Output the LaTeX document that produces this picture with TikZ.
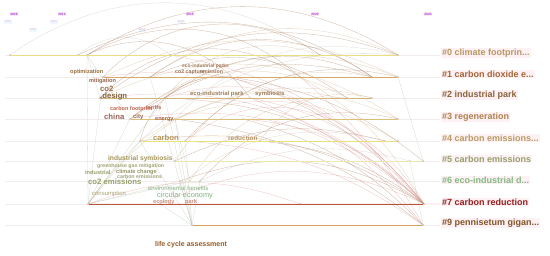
\documentclass[tikz,border=0pt]{standalone}
\usepackage{fontspec}
\setmainfont{Liberation Sans}
\definecolor{arcb}{RGB}{165,115,85}
\definecolor{arcp}{RGB}{225,140,140}
\definecolor{arct}{RGB}{205,170,125}
\definecolor{arcl}{RGB}{200,185,170}
\definecolor{arcg}{RGB}{175,190,165}
\definecolor{guidec}{RGB}{242,236,236}
\definecolor{dotc}{RGB}{130,110,80}
\definecolor{labbg}{RGB}{253,241,243}
\definecolor{yrc}{RGB}{160,60,220}
\definecolor{yrbg}{RGB}{252,232,240}
\tikzset{
  dot/.style={circle,fill=dotc,inner sep=0pt,minimum size=1.5pt},
  kw/.style={anchor=west,inner sep=0pt,font=\fontsize{#1}{#1}\selectfont\bfseries},
  kwr/.style={anchor=west,inner sep=0pt,font=\fontsize{#1}{#1}\selectfont},
  clus/.style={anchor=west,inner sep=1.5pt,fill=labbg,font=\fontsize{12.8}{14}\selectfont\bfseries},
  yr/.style={fill=yrbg,text=yrc,inner sep=1.2pt,font=\fontsize{4.5}{5}\selectfont\bfseries},
  ghost/.style={fill=cyan!7,text=magenta!35,inner sep=1.2pt,font=\fontsize{4}{5}\selectfont},
  guide/.style={guidec,line width=0.5pt},
  link/.style={line width=0.4pt,opacity=0.55},
  tl/.style={line width=0.8pt,draw={rgb,255:#1}},
}
\begin{document}
\begin{tikzpicture}[x=0.05cm,y=-0.05cm]
\useasboundingbox[fill=white] (0,0) rectangle (550,256);
% years
\node[ghost] (g09) at (8,22) {2009};\node[ghost] (g20) at (33,30) {2020};\node[ghost] (g10) at (54,22) {2010};
\node[ghost] (g14) at (142,30) {2014};\node[ghost] (g13) at (181,22) {2013};
\node[yr] (y09) at (14,14) {2009};\node[yr] (y10) at (62,14) {2010};\node[yr] (y15) at (190,14) {2015};
\node[yr] (y20) at (315,14) {2020};\node[yr] (y24) at (428,14) {2024};
\foreach \y in {55,77,98,119,141,161,181,204,225}{\draw[guide] (5,\y)--(440,\y);}
\draw[labbg,line width=4pt] (88,204)--(440,204);
% nodes on the rows
\foreach \n/\x/\y in {r0a/10/55,r0b/78/55,r0c/87/55,r0d/170/55,r0e/320/55,r0f/398/55,
  r1a/103/77,r1b/150/77,r1c/230/77,r1d/300/77,r1e/372/77,r1f/398/77,
  r2a/100/98,r2b/165/98,r2c/250/98,r2d/347/98,r2e/372/98,
  r3a/130/119,r3b/175/119,r3c/243/119,r3d/330/119,r3e/398/119,
  r4a/140/141,r4b/185/141,r4c/260/141,r4d/385/141,r4e/398/141,
  r5a/175/161,r5b/410/161,r5c/423/161,r6a/180/181,r6b/190/181,r6c/200/181,
  r7a/88/204,r7b/160/204,r7c/300/204,r7d/424/204,r9a/192/225,r9b/423/225}
  {\node[dot] (\n) at (\x,\y) {};}
% links
\foreach \a/\b in {r7a/r0c,r7a/r3a,r7a/r1a,r7a/r4a,r7a/r2b,r0c/r2a,r9a/r4b,r9a/r3b,r9a/r2b,r9a/r6a,r9a/r6c,
  r9a/r4a,r9a/r7b,r6b/r3b,r5c/r1f,r9b/r5b,r7a/r6a,r0c/r3a,r9a/r1b,r7a/r6b}
  {\draw[link,arcg] (\a)--(\b);}
\foreach \a/\b/\c/\k in {r0c/r0f/arcb/32,r0a/r0e/arcl/35,r0b/r1e/arcb/30,r1a/r7d/arcp/30,r1a/r1f/arct/25,
  r2a/r7d/arcp/25,r2a/r0f/arcb/28,r2b/r1e/arcb/30,r1b/r0f/arct/30,r2b/r7d/arcb/20,r3a/r7d/arcp/25,
  r3a/r1f/arct/30,r3b/r9b/arcb/15,r3c/r7d/arcp/20,r4a/r7d/arcb/20,r4a/r3e/arct/30,r4b/r9b/arcp/15,
  r4c/r7d/arcb/15,r2c/r7d/arcp/20,r1c/r7d/arcb/15,r1d/r7d/arct/15,r3d/r7d/arcp/15,r6a/r7d/arcb/25,
  r6b/r2d/arct/30,r5a/r4d/arcb/20,r7b/r7d/arcp/25,r7a/r2e/arct/35,r7a/r0f/arcl/30,r2a/r3e/arct/30,
  r0c/r1d/arcb/35,r1a/r0e/arcb/40,r1b/r2d/arcb/30,r3a/r1e/arcb/25,r4b/r3d/arcp/30,r0b/r0d/arcl/40,
  r7a/r7c/arcp/20,r3b/r4e/arct/25,r6c/r5b/arcl/20,r2b/r3d/arcp/25,r4a/r1c/arcb/40,
  r1b/r1e/arcb/35,r2b/r0e/arct/35,r3b/r0f/arcl/30,r4b/r1f/arcb/30,r5a/r1e/arct/35,r2c/r9b/arcp/15,
  r1c/r5c/arcb/15,r3c/r9b/arcb/15,r0d/r7d/arcp/20,r4c/r2e/arct/35,r6c/r3e/arcb/30,r1d/r9b/arcp/10,
  r2a/r1d/arcb/40,r3a/r2d/arct/35,r7b/r4d/arcl/30,r0c/r2c/arcb/40}
  {\draw[link,\c] (\a) to[bend left=\k] (\b);}
% timelines
\draw[tl={red,232;green,222;blue,130}] (r0a)--(r0f);
\draw[tl={red,212;green,170;blue,100}] (r1a)--(r1f);
\draw[tl={red,212;green,180;blue,120}] (r2a)--(r2e);
\draw[tl={red,218;green,192;blue,120}] (r3a)--(r3e);
\draw[tl={red,232;green,226;blue,120}] (r4a)--(r4e);
\draw[tl={red,238;green,232;blue,175}] (r5a)--(r5c);
\draw[tl={red,226;green,236;blue,214}] (r6a)--(r6c);
\draw[tl={red,185;green,85;blue,55},line width=0.9pt] (r7a)--(r7d);
\draw[tl={red,215;green,160;blue,90}] (r9a)--(r9b);
% keywords
\node[kw=8,text={rgb,255:red,150;green,110;blue,60}] (optimization) at (70,72) {optimization};
\node[kw=7,text={rgb,255:red,160;green,120;blue,90}] (ecoparks) at (182,66) {eco-industrial parks};
\node[kw=7.5,text={rgb,255:red,155;green,115;blue,85}] (capture) at (175,72) {co2 capture};
\node[kw=7.5,text={rgb,255:red,155;green,115;blue,85}] (emission) at (200,72) {emission};
\node[kw=8,text={rgb,255:red,150;green,100;blue,80}] (mitigation) at (89,81) {mitigation};
\node[kw=11,text={rgb,255:red,150;green,110;blue,70}] (co2) at (100,89) {co2};
\node[kw=11,text={rgb,255:red,130;green,100;blue,60}] (design) at (100,97) {,design};
\node[kw=8.5,text={rgb,255:red,155;green,125;blue,85}] (ecopark) at (190,94) {eco-industrial park};
\node[kw=8.5,text={rgb,255:red,155;green,125;blue,85}] (symbiosis) at (255,94) {symbiosis};
\node[kw=7.8,text={rgb,255:red,190;green,100;blue,80}] (footprint) at (110,109) {carbon footprint};
\node[kw=7.8,text={rgb,255:red,190;green,100;blue,80}] (tariffs) at (146,108) {tariffs};
\node[kw=11,text={rgb,255:red,150;green,100;blue,90}] (china) at (104,117) {china};
\node[kw=8.5,text={rgb,255:red,150;green,110;blue,90}] (city) at (133,117) {city};
\node[kw=8,text={rgb,255:red,170;green,100;blue,80}] (energy) at (155,120) {energy};
\node[kw=11,text={rgb,255:red,180;green,150;blue,90}] (carbon) at (153,138) {carbon};
\node[kw=9.2,text={rgb,255:red,185;green,150;blue,100}] (reduction) at (228,138) {reduction};
\node[kw=9.5,text={rgb,255:red,165;green,150;blue,90}] (indsym) at (108,159) {industrial symbiosis};
\node[kw=7.5,text={rgb,255:red,165;green,165;blue,115}] (ghgm) at (97,166) {greenhouse gas mitigation};
\node[kw=8,text={rgb,255:red,150;green,160;blue,110}] (industrial) at (85,172) {industrial};
\node[kw=8,text={rgb,255:red,150;green,150;blue,100}] (climate) at (116,172) {climate change};
\node[kw=7.5,text={rgb,255:red,160;green,165;blue,120}] (cemis) at (117,177) {carbon emissions};
\node[kw=11,text={rgb,255:red,150;green,160;blue,110}] (co2emis) at (88,182) {co2 emissions};
\node[kwr=8.5,text={rgb,255:red,130;green,175;blue,130}] (envben) at (148,188) {environmental benefits};
\node[kwr=8.5,text={rgb,255:red,170;green,160;blue,110}] (consumption) at (92,194) {consumption};
\node[kwr=10.5,text={rgb,255:red,130;green,180;blue,130}] (circular) at (157,196) {circular economy};
\node[kw=8,text={rgb,255:red,200;green,150;blue,130}] (ecology) at (153,202) {ecology};
\node[kw=8,text={rgb,255:red,200;green,140;blue,130}] (park) at (185,202) {park};
\node[kw=10,text={rgb,255:red,150;green,90;blue,40}] (lca) at (155,245) {life cycle assessment};
% clusters
\node[clus,text={rgb,255:red,185;green,150;blue,100}] (c0) at (441,53) {\#0 climate footprin...};
\node[clus,text={rgb,255:red,165;green,100;blue,55}] (c1) at (441,74) {\#1 carbon dioxide e...};
\node[clus,text={rgb,255:red,140;green,100;blue,60}] (c2) at (441,95) {\#2 industrial park};
\node[clus,text={rgb,255:red,175;green,130;blue,80}] (c3) at (441,117) {\#3 regeneration};
\node[clus,text={rgb,255:red,185;green,155;blue,100}] (c4) at (441,138) {\#4 carbon emissions...};
\node[clus,text={rgb,255:red,150;green,160;blue,110}] (c5) at (441,159) {\#5 carbon emissions};
\node[clus,text={rgb,255:red,130;green,185;blue,130}] (c6) at (441,180) {\#6 eco-industrial d...};
\node[clus,text={rgb,255:red,150;green,30;blue,30}] (c7) at (441,202) {\#7 carbon reduction};
\node[clus,text={rgb,255:red,130;green,85;blue,40}] (c9) at (441,223) {\#9 pennisetum gigan...};
\end{tikzpicture}
\end{document}
